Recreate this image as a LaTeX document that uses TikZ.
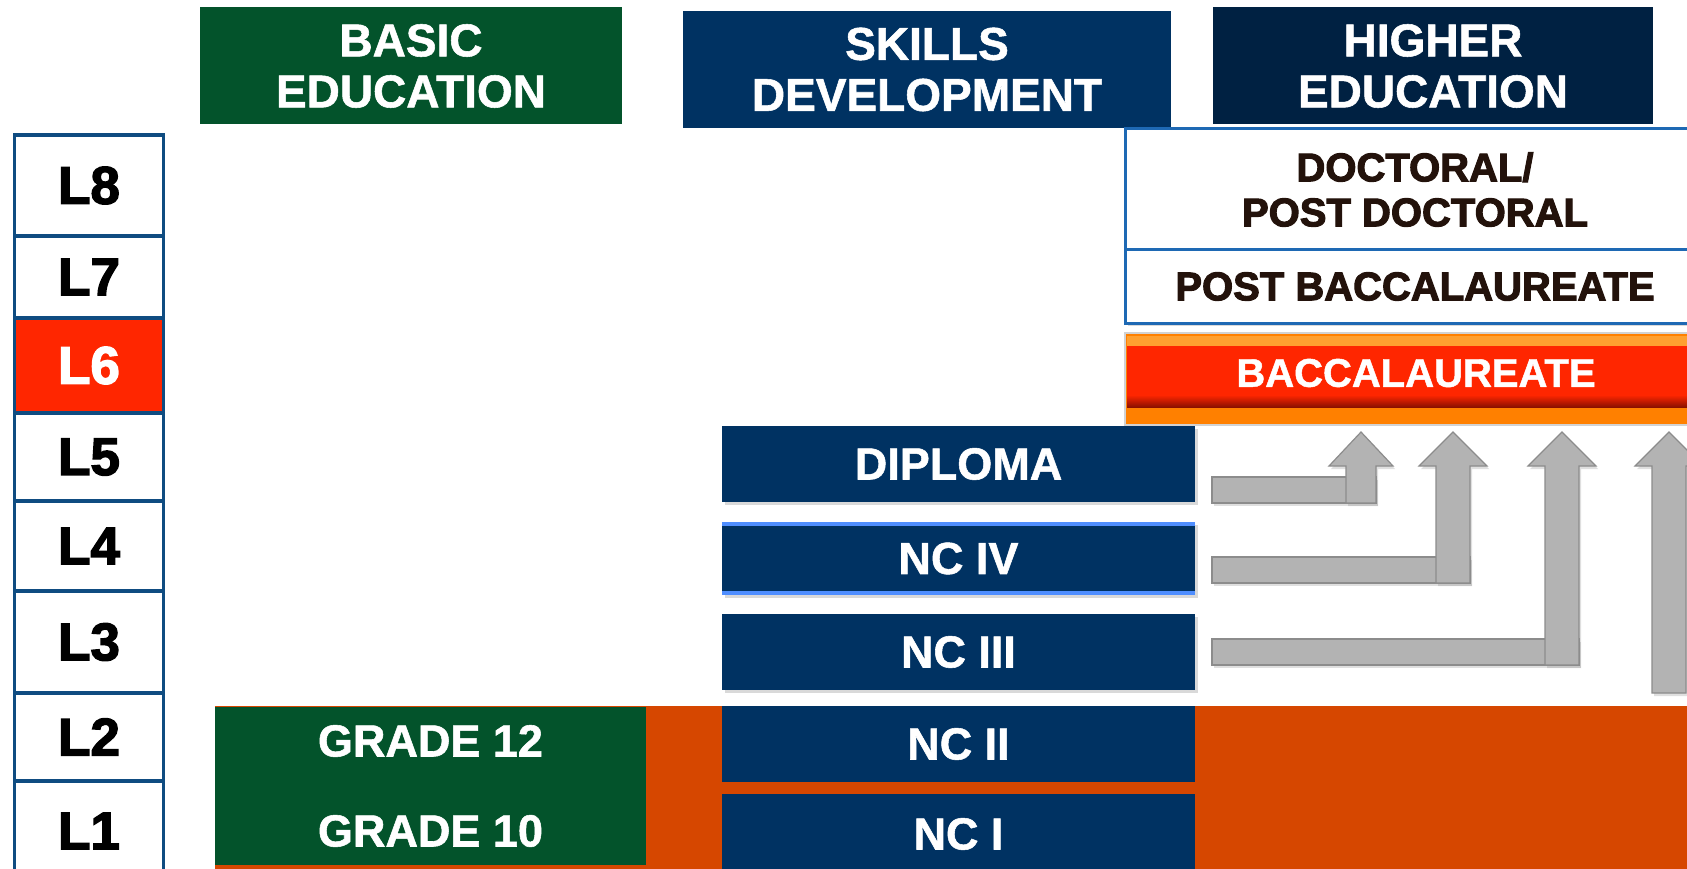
\documentclass[tikz,border=0pt]{standalone}
\usepackage{fontspec}
\setmainfont{Liberation Sans}[BoldFeatures={FakeBold=1.2}]
\newfontfamily\heavyfont{Liberation Sans}[BoldFeatures={FakeBold=2.6}]
\usetikzlibrary{shadows}

\definecolor{basicgreen}{RGB}{3,83,43}
\definecolor{skillnavy}{RGB}{0,50,98}
\definecolor{highnavy}{RGB}{0,33,66}
\definecolor{lvlblue}{RGB}{15,76,129}
\definecolor{hotred}{RGB}{255,38,0}
\definecolor{docblue}{RGB}{30,105,180}
\definecolor{bandorange}{RGB}{214,71,0}
\definecolor{arrowgray}{RGB}{179,179,179}
\definecolor{arrowedge}{RGB}{140,140,140}
\definecolor{nclight}{RGB}{79,142,255}
\definecolor{baclight}{RGB}{255,160,48}
\definecolor{bacorange}{RGB}{255,128,0}
\definecolor{bacdark}{RGB}{139,16,0}
\definecolor{inkbrown}{RGB}{35,18,11}

\begin{document}
\begin{tikzpicture}[x=1pt, y=-1pt,
    hdrbox/.style={fill=#1, text=white, align=center, inner sep=0pt, minimum height=117,
      font=\bfseries\fontsize{46}{51}\selectfont},
    lvbox/.style={draw=lvlblue, line width=3.5pt, fill=white, text=black, inner sep=0pt,
      minimum width=149, font=\heavyfont\bfseries\fontsize{53}{58}\selectfont},
    lvhot/.style={lvbox, fill=hotred, text=white},
    skillbox/.style={fill=skillnavy, text=white, inner sep=0pt, minimum width=473,
      font=\bfseries\fontsize{45}{50}\selectfont},
    highbox/.style={draw=docblue, line width=3pt, fill=white, text=inkbrown, align=center,
      inner sep=0pt, minimum width=580, font=\heavyfont\bfseries\fontsize{40}{45}\selectfont},
    softshadow/.style={drop shadow={shadow xshift=3pt, shadow yshift=-3pt, opacity=0.3}},
    barrow/.style={fill=arrowgray, draw=arrowedge, line width=1.2pt,
      drop shadow={shadow xshift=2pt, shadow yshift=-3pt, opacity=0.25}},
    ncline/.style={nclight, line width=4pt}]

  \useasboundingbox (0,0) rectangle (1687,869);
  \clip (0,0) rectangle (1687,869);

  % column heads
  \node[hdrbox=basicgreen, minimum width=422] (basic) at (411,66) {BASIC\\EDUCATION};
  \node[hdrbox=skillnavy, minimum width=488] (skills) at (927,69.5) {SKILLS\\DEVELOPMENT};
  \node[hdrbox=highnavy, minimum width=440] (higher) at (1433,66) {HIGHER\\EDUCATION};

  % level ladder
  \foreach \lv/\ytop/\ybot/\sty in {8/135/236/lvbox, 7/236/318/lvbox, 6/318/413/lvhot,
      5/413/501/lvbox, 4/501/591/lvbox, 3/591/693/lvbox, 2/693/781/lvbox, 1/781/881/lvbox}
    \node[\sty, minimum height={\ybot-\ytop}] (L\lv) at (89,{(\ytop+\ybot)/2}) {L\lv};

  % higher education
  \node[highbox, minimum height=121, softshadow] (doct) at (1415,189.5) {DOCTORAL/\\POST DOCTORAL};
  \node[highbox, minimum height=73, softshadow] (postbac) at (1415,286.5) {POST BACCALAUREATE};

  \draw[gray!35, line width=1.5pt, fill=bacorange] (1125,333) rectangle (1705,425);
  \fill[baclight] (1127,336) rectangle (1705,346);
  \node[fill=hotred, text=white, inner sep=0pt, minimum width=578, minimum height=54,
    font=\bfseries\fontsize{40}{45}\selectfont] (bacc) at (1416,373) {BACCALAUREATE};
  \shade[top color=hotred, bottom color=bacdark] (1127,395) rectangle (1705,407);

  % band behind L1-L2
  \fill[bandorange] (215,706) rectangle (1687,869);

  % basic education
  \node[fill=basicgreen, text=white, align=center, inner sep=0pt, minimum width=431, minimum height=158,
    font=\bfseries\fontsize{45}{90}\selectfont] (grades) at (430.5,786) {GRADE 12\\GRADE 10};

  % skills development
  \node[skillbox, minimum height=76, softshadow] (dipl) at (958.5,464) {DIPLOMA};
  \node[skillbox, minimum height=73, softshadow] (nc4) at (958.5,558.5) {NC IV};
  \draw[ncline] ([yshift=-2pt]nc4.north west) -- ([yshift=-2pt]nc4.north east);
  \draw[ncline] ([yshift=2pt]nc4.south west) -- ([yshift=2pt]nc4.south east);
  \node[skillbox, minimum height=76, softshadow] (nc3) at (958.5,652) {NC III};
  \node[skillbox, minimum height=76] (nc2) at (958.5,744) {NC II};
  \node[skillbox, minimum height=80] (nc1) at (958.5,834) {NC I};

  % ladder arrows up to the baccalaureate
  \foreach \bt/\sl/\sw in {477/1346/30, 557/1436/34, 639/1545/34} {
    \draw[barrow] (1212,\bt) rectangle ({\sl+\sw},{\bt+26});
    \draw[barrow] (\sl,{\bt+26}) -- (\sl,466) -- ({\sl-17},466) -- ({\sl+\sw/2},432)
      -- ({\sl+\sw+17},466) -- ({\sl+\sw},466) -- ({\sl+\sw},{\bt+26}) -- cycle;
  }
  \draw[barrow] (1652,693) -- (1652,466) -- (1635,466) -- (1669,432) -- (1703,466)
    -- (1686,466) -- (1686,693) -- cycle;

\end{tikzpicture}
\end{document}
